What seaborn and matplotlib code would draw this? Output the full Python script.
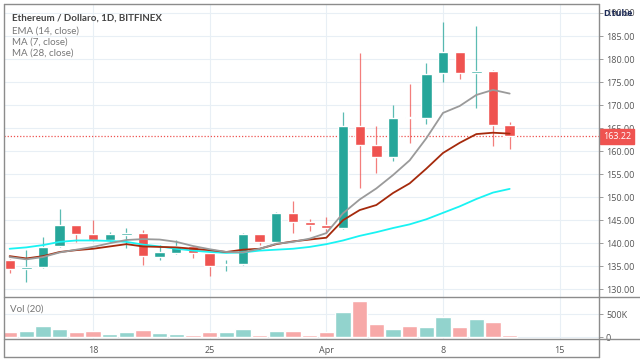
import matplotlib
matplotlib.use("Agg")
import matplotlib.pyplot as plt
from matplotlib.lines import Line2D
import seaborn as sns
import numpy as np
import pandas as pd

# daily candles, ETH/USD Bitfinex, 13 Mar - 12 Apr
days = pd.date_range("2018-03-13", periods=31, freq="D")
opens = [136.3, 134.4, 134.8, 139.3, 143.9, 141.9, 140.7, 141.7, 142.3, 137.0,
         137.9, 139.3, 137.8, 135.2, 135.4, 141.9, 140.2, 146.5, 144.7, 143.9,
         143.2, 165.5, 161.3, 158.8, 167.5, 167.1, 176.9, 181.5, 176.9, 177.3, 165.7]
highs = [136.5, 138.6, 141.4, 147.5, 144.0, 145.0, 142.5, 143.2, 142.8, 139.6,
         140.8, 139.5, 138.0, 136.3, 142.3, 142.0, 146.7, 149.2, 145.2, 145.7,
         168.5, 181.4, 165.5, 170.0, 174.5, 179.2, 188.0, 181.6, 187.2, 177.6, 166.4]
lows = [133.5, 131.5, 134.6, 139.2, 140.3, 140.5, 140.3, 139.0, 135.2, 136.3,
        137.7, 136.9, 132.8, 134.0, 135.3, 139.7, 140.1, 142.2, 142.7, 142.2,
        143.0, 152.1, 155.2, 157.9, 161.8, 166.0, 175.1, 175.6, 169.3, 161.1, 160.4]
closes = [134.5, 134.8, 139.2, 143.9, 141.9, 140.7, 141.9, 142.3, 137.2, 138.1,
          139.3, 137.9, 135.1, 135.5, 141.9, 140.3, 146.5, 144.6, 143.9, 143.3,
          165.5, 161.3, 158.8, 167.3, 167.1, 176.7, 181.5, 176.9, 177.3, 165.7, 163.22]
volumes = [106, 141, 246, 190, 113, 148, 70, 113, 162, 92,
           70, 56, 113, 113, 176, 56, 148, 134, 56, 106,
           556, 789, 296, 190, 254, 232, 437, 232, 394, 324, 56]  # thousands

# indicator lines
ema14 = [137.2, 136.7, 137.2, 138.1, 138.5, 138.8, 139.3, 139.8, 139.3, 139.2,
         139.1, 138.8, 138.5, 138.1, 138.6, 138.8, 139.8, 140.4, 140.8, 141.2,
         145.0, 147.2, 148.3, 150.9, 153.0, 156.2, 159.6, 161.8, 163.7, 164.0, 163.8]
ma7 = [137.0, 136.5, 137.0, 138.0, 138.6, 139.2, 140.0, 140.7, 140.9, 140.8,
       140.3, 139.4, 138.7, 138.1, 138.0, 138.8, 139.9, 140.3, 141.0, 142.2,
       146.5, 149.5, 151.9, 154.8, 158.0, 162.8, 168.3, 169.8, 172.2, 173.3, 172.5]
ma28 = [138.8, 139.1, 139.6, 140.3, 140.6, 140.6, 140.5, 140.3, 139.7, 139.3,
        138.8, 138.4, 138.1, 137.9, 138.0, 138.4, 138.6, 138.8, 139.2, 139.8,
        140.6, 141.6, 142.4, 143.3, 144.1, 145.2, 146.6, 148.0, 149.6, 151.0, 151.8]

tick_dates = pd.to_datetime(["2018-03-18", "2018-03-25", "2018-04-01", "2018-04-08", "2018-04-15"])
tick_labels = ["18", "25", "Apr", "8", "15"]
price_ticks = list(range(130, 191, 5))
last_price = 163.22

UP, DOWN = "#26a69a", "#ef5350"
UP_V, DOWN_V = "#92d3cd", "#f7a9a8"
GRID = "#e8eff5"
FRAME = "#8c8c8c"
TXT = "#555555"

sns.set_style("white")
plt.rcParams["font.family"] = ["Open Sans", "DejaVu Sans"]

W, H = 640, 360
fig = plt.figure(figsize=(6.4, 3.6), dpi=100)
L, R, T, MID, BOT, END = 4, 599, 4, 296.7, 339.3, 357
ax = fig.add_axes([L / W, 1 - MID / H, (R - L) / W, (MID - T) / H])
axv = fig.add_axes([L / W, 1 - BOT / H, (R - L) / W, (BOT - MID) / H], sharex=ax)

x = np.array([(d - days[0]).days for d in days])
o, c = np.array(opens), np.array(closes)
up = c >= o
cols = np.where(up, UP, DOWN)

# candles
ax.vlines(x, lows, highs, colors=cols, lw=0.9, alpha=0.75, zorder=3)
body = np.maximum(np.abs(c - o), 0.35)
ax.bar(x, body, bottom=np.minimum(o, c), width=0.62, color=cols, zorder=4)

# moving averages
ma_df = pd.DataFrame({"x": np.tile(x, 3),
                      "value": ma28 + ema14 + ma7,
                      "series": ["MA28"] * 31 + ["EMA14"] * 31 + ["MA7"] * 31})
sns.lineplot(data=ma_df, x="x", y="value", hue="series", ax=ax, legend=False,
             palette={"MA28": "#19f3f3", "EMA14": "#a52a0c", "MA7": "#9a9a9a"},
             linewidth=1.3, zorder=5)

ax.axhline(last_price, color=DOWN, lw=0.9, ls=(0, (1, 1.5)), zorder=2)

# volume
axv.bar(x, volumes, width=0.93, color=np.where(up, UP_V, DOWN_V), zorder=3)

xt = [(d - days[0]).days for d in tick_dates]
ax.set_xlim(-0.34, 35.36)
ax.set_ylim(128.39, 191.95)
axv.set_ylim(-43, 883)

for a in (ax, axv):
    a.set_xticks(xt)
    a.grid(True, color=GRID, lw=0.8, zorder=0)
    a.set_xlabel("")
    a.set_ylabel("")
    for s in a.spines.values():
        s.set_visible(False)
    a.yaxis.tick_right()
    a.tick_params(axis="y", direction="out", length=3, width=0.6, color=FRAME,
                  labelsize=6.5, labelcolor=TXT, pad=2)

ax.set_yticks(price_ticks)
ax.set_yticklabels([f"{p:.2f}" for p in price_ticks])
ax.tick_params(axis="x", length=0, labelbottom=False)

axv.set_yticks([0, 500])
axv.set_yticklabels(["0", "500K"])
axv.set_xticklabels(tick_labels)
axv.tick_params(axis="x", direction="out", length=2, width=0.6, color=FRAME,
                labelsize=6.5, labelcolor=TXT, pad=3)

# price label on the right scale
ax.annotate(f"{last_price:.2f}", xy=(1.0, last_price), xycoords=("axes fraction", "data"),
            xytext=(3, 0), textcoords="offset points", va="center", ha="left",
            fontsize=6.5, color="white", zorder=10,
            bbox=dict(boxstyle="square,pad=0.3", fc=DOWN, ec=DOWN))

# frame lines
def fline(x0, y0, x1, y1):
    fig.add_artist(Line2D([x0 / W, x1 / W], [1 - y0 / H, 1 - y1 / H], color=FRAME, lw=1))

fline(L, T, R, T)
fline(L, T, L, END)
fline(L, END, R, END)
fline(R, T, R, END)
fline(L, MID, W, MID)
fline(L, BOT, W, BOT)

LEG = ["Lato", "DejaVu Sans"]
fig.text(12 / W, 1 - 18 / H, "Ethereum / Dollaro, 1D, BITFINEX", fontsize=7, family=LEG,
         color="#444444", fontweight="bold", va="center")
for yy, lab in [(31.5, "EMA (14, close)"), (42.5, "MA (7, close)"), (53.5, "MA (28, close)")]:
    fig.text(12 / W, 1 - yy / H, lab, fontsize=7, family=LEG, color="#777777", va="center")
fig.text(10 / W, 1 - 309 / H, "Vol (20)", fontsize=7, family=LEG, color="#777777", va="center")
fig.text(603 / W, 1 - 14 / H, "D.tube", fontsize=6.5, color="#1d2b57",
         fontweight="bold", va="center", ha="left")

fig.savefig("out.png", dpi=100)
